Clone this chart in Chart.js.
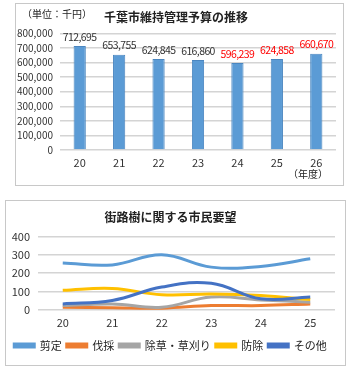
<!DOCTYPE html>
<html>
<head>
<meta charset="utf-8">
<script src="https://cdn.jsdelivr.net/npm/chart.js@4"></script>
<style>
  body { margin: 0; background: #fff; width: 351px; height: 366px; position: relative; overflow: hidden; }
  .frame { position: absolute; border: 1px solid #c8c8c8; background: #fff; }
  canvas { position: absolute; }
  .note { position: absolute; font: 10px "Noto Sans CJK JP"; color: #222; white-space: nowrap; }
</style>
</head>
<body>
<div class="frame" style="left:15px;top:3px;width:327px;height:181px;"></div>
<div class="frame" style="left:5px;top:200px;width:339px;height:164px;"></div>
<canvas id="budgetChart" width="326" height="180" style="left:16px;top:4px;"></canvas>
<canvas id="requestChart" width="338" height="163" style="left:6px;top:201px;"></canvas>
<div class="note" style="left:22px;top:6px;">（単位：千円）</div>
<div class="note" style="left:288px;top:166px;">（年度）</div>
<script>
// budget chart data (千円)
const years = ["20", "21", "22", "23", "24", "25", "26"];
const budget = [712695, 653755, 624845, 616860, 596239, 624858, 660670];
const budgetTicks = [0, 100000, 200000, 300000, 400000, 500000, 600000, 700000, 800000];

// citizen request chart data
const reqYears = ["20", "21", "22", "23", "24", "25"];
const seriesNames = ["剪定", "伐採", "除草・草刈り", "防除", "その他"];
const pruning = [255, 245, 300, 233, 237, 278];
const felling = [15, 12, 10, 24, 24, 33];
const weeding = [24, 33, 15, 70, 55, 42];
const pestControl = [107, 117, 83, 87, 79, 57];
const others = [33, 52, 125, 145, 61, 70];
const reqTicks = [0, 100, 200, 300, 400];

const JP = '"Noto Sans CJK JP", sans-serif';
const seriesColors = ["#5b9bd5", "#ed7d31", "#a5a5a5", "#ffc000", "#4472c4"];

// value labels above bars; projected years (24-26) in red
const barLabels = {
  id: "barLabels",
  afterDatasetsDraw(chart) {
    const ctx = chart.ctx;
    const meta = chart.getDatasetMeta(0);
    ctx.save();
    ctx.font = "10.5px " + JP;
    ctx.letterSpacing = "-0.6px";
    ctx.textAlign = "center";
    ctx.textBaseline = "bottom";
    meta.data.forEach((bar, i) => {
      ctx.fillStyle = i >= 4 ? "#ff0000" : "#333";
      ctx.fillText(budget[i].toLocaleString("en-US"), bar.x, bar.y - 4);
    });
    ctx.restore();
  }
};

new Chart(document.getElementById("budgetChart"), {
  type: "bar",
  data: {
    labels: years,
    datasets: [{
      data: budget,
      backgroundColor: "#5b9bd5",
      borderColor: "#4a86c0",
      borderWidth: 1,
      categoryPercentage: 1,
      barPercentage: 0.31
    }]
  },
  options: {
    responsive: false,
    animation: false,
    layout: { padding: { left: 0, right: 6, top: 0, bottom: 0 } },
    plugins: {
      legend: { display: false },
      tooltip: { enabled: false },
      title: {
        display: true,
        text: "千葉市維持管理予算の推移",
        color: "#222",
        font: { family: JP, size: 12, weight: "bold" },
        padding: { top: 6, bottom: 9 }
      }
    },
    scales: {
      x: {
        grid: { display: false, drawTicks: false },
        border: { display: false },
        ticks: { color: "#333", font: { family: JP, size: 11 }, padding: 6 },
        afterFit: s => { s.height = 34; }
      },
      y: {
        min: 0,
        max: 800000,
        afterBuildTicks: s => { s.ticks = budgetTicks.map(v => ({ value: v })); },
        grid: { color: "#d4d4d4", lineWidth: 1.5, drawTicks: false },
        border: { display: false },
        ticks: {
          autoSkip: false,
          color: "#333",
          font: { family: JP, size: 10 },
          padding: 7,
          callback: v => v.toLocaleString("en-US")
        },
        afterFit: s => { s.width = 44; }
      }
    }
  },
  plugins: [barLabels]
});

const reqSeries = [pruning, felling, weeding, pestControl, others];

new Chart(document.getElementById("requestChart"), {
  type: "line",
  data: {
    labels: reqYears,
    datasets: reqSeries.map((vals, i) => ({
      label: seriesNames[i],
      data: vals,
      borderColor: seriesColors[i],
      backgroundColor: seriesColors[i],
      borderWidth: 3,
      pointRadius: 0,
      tension: 0.4,
      order: reqSeries.length - i
    }))
  },
  options: {
    responsive: false,
    animation: false,
    layout: { padding: { left: 0, right: 9, top: 0, bottom: 3 } },
    plugins: {
      tooltip: { enabled: false },
      title: {
        display: true,
        text: "街路樹に関する市民要望",
        color: "#222",
        font: { family: JP, size: 12, weight: "bold" },
        padding: { top: 9, bottom: 12 }
      },
      legend: {
        position: "bottom",
        labels: {
          boxWidth: 20,
          boxHeight: 3,
          padding: 5,
          color: "#222",
          font: { family: JP, size: 11 },
          sort: (a, b) => a.datasetIndex - b.datasetIndex
        }
      }
    },
    scales: {
      x: {
        offset: true,
        grid: { display: false, drawTicks: false },
        border: { display: false },
        ticks: { color: "#333", font: { family: JP, size: 11 }, padding: 6 },
        afterFit: s => { s.height = 25; }
      },
      y: {
        min: 0,
        max: 400,
        afterBuildTicks: s => { s.ticks = reqTicks.map(v => ({ value: v })); },
        grid: { color: "#d4d4d4", lineWidth: 1.5, drawTicks: false },
        border: { display: false },
        ticks: { autoSkip: false, color: "#333", font: { family: JP, size: 11 }, padding: 8 },
        afterFit: s => { s.width = 32; }
      }
    }
  }
});
</script>
</body>
</html>
